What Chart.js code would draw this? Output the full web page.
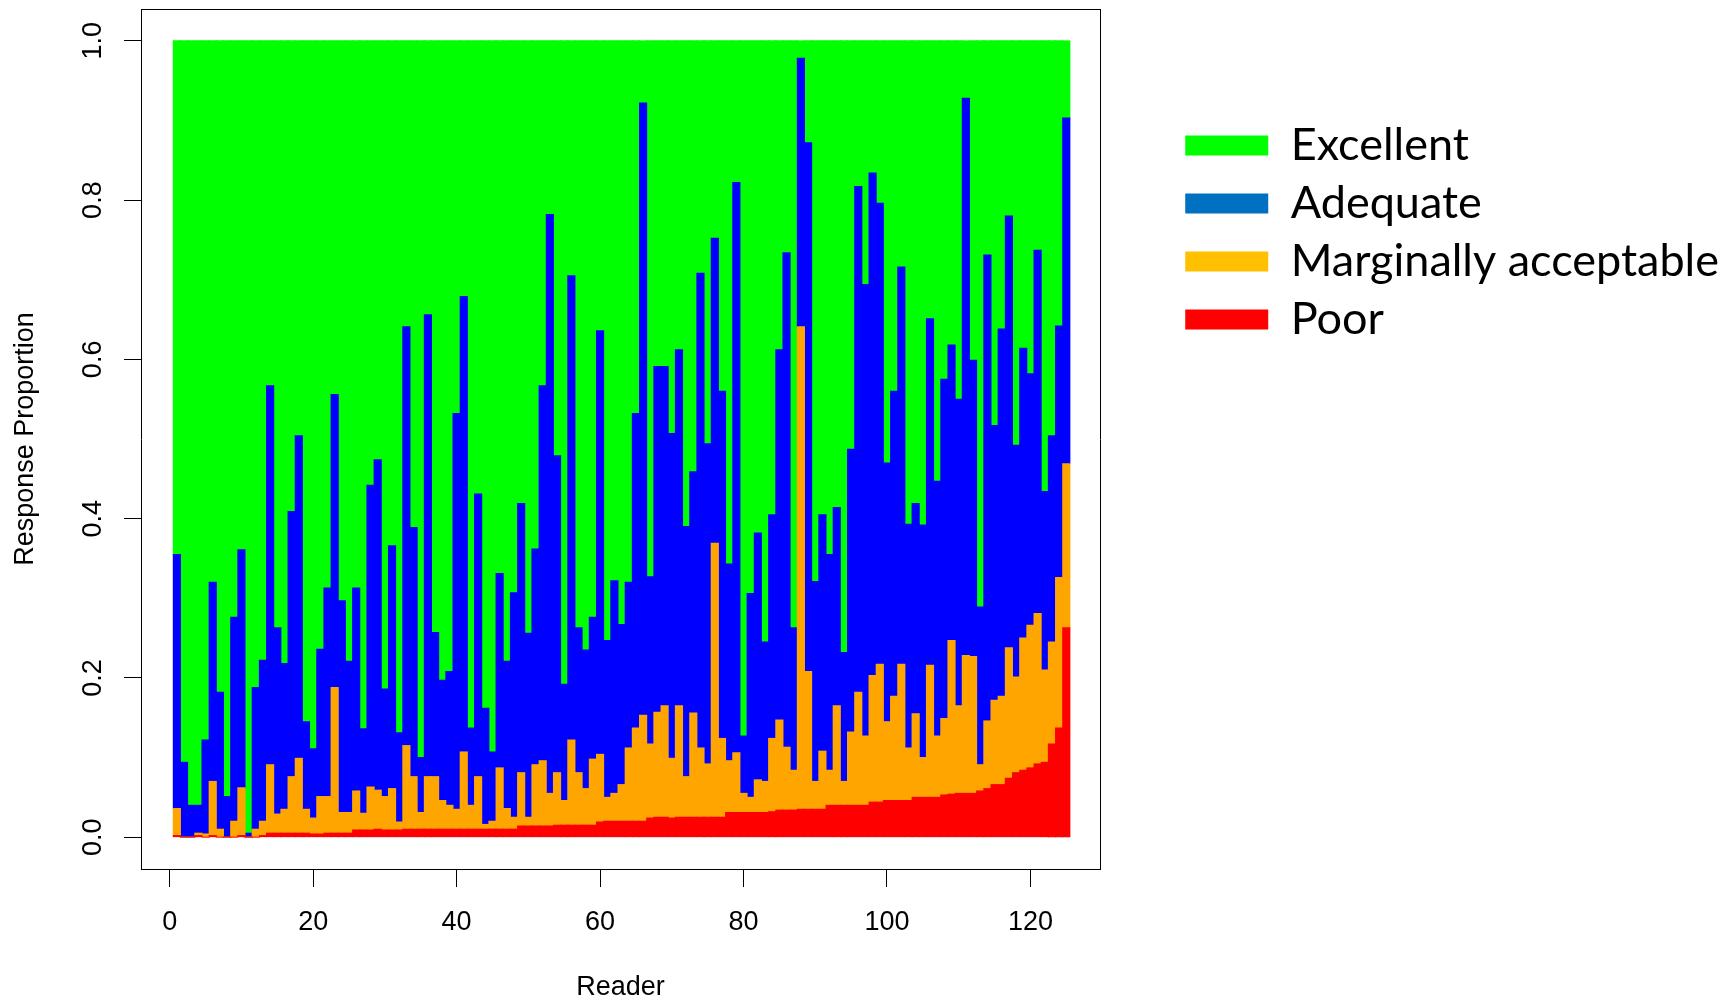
<!DOCTYPE html>
<html>
<head>
<meta charset="utf-8">
<script src="https://cdn.jsdelivr.net/npm/chart.js@4.4.1/dist/chart.umd.min.js"></script>
<style>
html,body{margin:0;padding:0;background:#ffffff;}
#wrap{width:1729px;height:1000px;position:relative;}
</style>
</head>
<body>
<div id="wrap"><canvas id="c" width="1729" height="1000"></canvas></div>
<script>
// ---- data ----
const readers = [1,2,3,4,5,6,7,8,9,10,11,12,13,14,15,16,17,18,19,20,21,22,23,24,25,26,27,28,29,30,31,32,33,34,35,36,37,38,39,40,41,42,43,44,45,46,47,48,49,50,51,52,53,54,55,56,57,58,59,60,61,62,63,64,65,66,67,68,69,70,71,72,73,74,75,76,77,78,79,80,81,82,83,84,85,86,87,88,89,90,91,92,93,94,95,96,97,98,99,100,101,102,103,104,105,106,107,108,109,110,111,112,113,114,115,116,117,118,119,120,121,122,123,124,125];

const poor = [
  0.002,0,0,0.002,0,0.002,0,0,0,0.002,
  0,0,0.002,0.005,0.005,0.005,0.005,0.005,0.005,0.004,
  0.004,0.005,0.005,0.005,0.005,0.009,0.009,0.009,0.010,0.009,
  0.009,0.009,0.010,0.010,0.010,0.010,0.010,0.010,0.010,0.010,
  0.010,0.010,0.010,0.010,0.010,0.010,0.010,0.010,0.014,0.014,
  0.014,0.014,0.014,0.015,0.015,0.015,0.015,0.015,0.015,0.019,
  0.020,0.020,0.020,0.020,0.020,0.020,0.024,0.025,0.025,0.024,
  0.025,0.025,0.025,0.025,0.025,0.025,0.025,0.031,0.031,0.031,
  0.031,0.031,0.031,0.032,0.034,0.034,0.034,0.035,0.035,0.035,
  0.035,0.040,0.040,0.040,0.040,0.040,0.040,0.044,0.044,0.046,
  0.046,0.046,0.046,0.050,0.050,0.050,0.050,0.053,0.054,0.055,
  0.055,0.055,0.058,0.061,0.066,0.066,0.074,0.081,0.084,0.087,
  0.092,0.094,0.117,0.137,0.263
];

const marginal = [
  0.034,0,0,0.003,0.004,0.068,0.010,0,0.020,0.060,
  0,0.010,0.018,0.086,0.024,0.030,0.071,0.094,0.030,0.020,
  0.047,0.046,0.183,0.026,0.026,0.049,0.021,0.054,0.049,0.042,
  0.052,0.010,0.105,0.066,0.021,0.066,0.066,0.036,0.030,0.025,
  0.097,0.030,0.066,0.006,0.010,0.077,0.026,0.015,0.067,0.011,
  0.077,0.082,0.041,0.066,0.031,0.107,0.066,0.046,0.083,0.085,
  0.030,0.035,0.046,0.092,0.117,0.133,0.093,0.132,0.140,0.075,
  0.140,0.051,0.131,0.087,0.067,0.344,0.099,0.065,0.075,0.024,
  0.019,0.041,0.039,0.092,0.113,0.079,0.050,0.606,0.173,0.035,
  0.073,0.044,0.125,0.030,0.092,0.142,0.087,0.159,0.173,0.099,
  0.131,0.171,0.066,0.105,0.050,0.166,0.077,0.096,0.193,0.110,
  0.173,0.172,0.033,0.085,0.106,0.111,0.164,0.120,0.166,0.179,
  0.189,0.116,0.128,0.189,0.206
];

const adequate = [
  0.319,0.094,0.040,0.035,0.118,0.250,0.172,0.051,0.256,0.299,
  0.005,0.178,0.202,0.476,0.234,0.183,0.333,0.405,0.110,0.087,
  0.185,0.262,0.368,0.266,0.190,0.255,0.106,0.379,0.415,0.135,
  0.305,0.112,0.526,0.313,0.069,0.580,0.181,0.151,0.168,0.497,
  0.572,0.097,0.355,0.146,0.087,0.244,0.185,0.282,0.338,0.231,
  0.271,0.471,0.727,0.398,0.146,0.583,0.182,0.174,0.178,0.532,
  0.197,0.267,0.201,0.208,0.395,0.769,0.210,0.434,0.426,0.408,
  0.447,0.314,0.303,0.596,0.402,0.383,0.436,0.247,0.716,0.072,
  0.256,0.310,0.175,0.281,0.465,0.621,0.179,0.337,0.664,0.251,
  0.297,0.271,0.249,0.162,0.355,0.635,0.567,0.631,0.579,0.325,
  0.383,0.499,0.281,0.264,0.292,0.435,0.320,0.426,0.371,0.385,
  0.700,0.372,0.198,0.585,0.345,0.461,0.542,0.291,0.364,0.316,
  0.456,0.224,0.259,0.316,0.434
];

const excellent = [
  0.645,0.906,0.960,0.960,0.878,0.680,0.818,0.949,0.724,0.639,
  0.995,0.812,0.778,0.433,0.737,0.782,0.591,0.496,0.855,0.889,
  0.764,0.687,0.444,0.703,0.779,0.687,0.864,0.558,0.526,0.814,
  0.634,0.869,0.359,0.611,0.900,0.344,0.743,0.803,0.792,0.468,
  0.321,0.863,0.569,0.838,0.893,0.669,0.779,0.693,0.581,0.744,
  0.638,0.433,0.218,0.521,0.808,0.295,0.737,0.765,0.724,0.364,
  0.753,0.678,0.733,0.680,0.468,0.078,0.673,0.409,0.409,0.493,
  0.388,0.610,0.541,0.292,0.506,0.248,0.440,0.657,0.178,0.873,
  0.694,0.618,0.755,0.595,0.388,0.266,0.737,0.022,0.128,0.679,
  0.595,0.645,0.586,0.768,0.513,0.183,0.306,0.166,0.204,0.530,
  0.440,0.284,0.607,0.581,0.608,0.349,0.553,0.425,0.382,0.450,
  0.072,0.401,0.711,0.269,0.483,0.362,0.220,0.508,0.386,0.418,
  0.263,0.566,0.496,0.358,0.097
];

const seriesNames = ['Poor', 'Marginally acceptable', 'Adequate', 'Excellent'];
const barColors = ['#FF0000', '#FFA500', '#0000FF', '#00FF00'];
const legendNames = ['Excellent', 'Adequate', 'Marginally acceptable', 'Poor'];
const legendColors = ['#00FF00', '#0070C0', '#FFC000', '#FF0000'];
const xTickValues = [0, 20, 40, 60, 80, 100, 120];
const xTickLabels = ['0', '20', '40', '60', '80', '100', '120'];
const yTickValues = [0, 0.2, 0.4, 0.6, 0.8, 1.0];
const yTickLabels = ['0.0', '0.2', '0.4', '0.6', '0.8', '1.0'];
const xTitle = 'Reader';
const yTitle = 'Response Proportion';

// ---- layout constants ----
const PLOT_LEFT = 141, PLOT_RIGHT = 1100, PLOT_TOP = 9, PLOT_BOTTOM = 869;
const AXIS_FONT = { family: 'Liberation Sans', size: 27 };
const LEGEND_FONT = { family: 'Lato', size: 45 };

Chart.defaults.font.family = 'Liberation Sans';
Chart.defaults.color = '#000000';

function lookup(values, labels, v) {
  const i = values.findIndex(t => Math.abs(t - v) < 1e-6);
  return i >= 0 ? labels[i] : '';
}
function noPad(s) {
  s.paddingTop = 0; s.paddingBottom = 0; s.paddingLeft = 0; s.paddingRight = 0;
}

const seriesData = [poor, marginal, adequate, excellent];
const datasets = seriesNames.map((name, i) => ({
  label: name,
  data: seriesData[i],
  backgroundColor: barColors[i],
  borderWidth: 0,
  barPercentage: 1.0,
  categoryPercentage: 1.0,
  inflateAmount: 0.5,
  xAxisID: 'x',
  yAxisID: 'y'
}));

new Chart(document.getElementById('c'), {
  type: 'bar',
  data: { labels: readers, datasets: datasets },
  options: {
    responsive: false,
    devicePixelRatio: 1,
    animation: false,
    events: [],
    layout: { padding: 0 },
    scales: {
      x: {
        type: 'linear',
        position: 'bottom',
        stacked: true,
        min: -4,
        max: 129.7,
        offset: false,
        afterFit: (s) => { s.height = 1000 - PLOT_BOTTOM; noPad(s); },
        ticks: {
          stepSize: 20,
          includeBounds: false,
          autoSkip: false,
          maxRotation: 0,
          minRotation: 0,
          padding: 19,
          font: AXIS_FONT,
          color: '#000000',
          callback: (v) => lookup(xTickValues, xTickLabels, v)
        },
        grid: { display: true, drawOnChartArea: false, drawTicks: true, tickLength: 18, tickColor: '#000000', tickWidth: 1, offset: false },
        border: { display: true, color: '#000000', width: 1 },
        title: { display: true, text: xTitle, font: { family: 'Liberation Sans', size: 27, lineHeight: 0.9 }, color: '#000000', padding: { top: 0, bottom: 0 } }
      },
      xTop: {
        type: 'linear',
        position: 'top',
        display: true,
        afterFit: (s) => { s.height = PLOT_TOP; noPad(s); },
        ticks: { display: false },
        grid: { display: false, drawTicks: false },
        border: { display: true, color: '#000000', width: 1 }
      },
      y: {
        type: 'linear',
        position: 'left',
        stacked: true,
        min: -0.04,
        max: 1.04,
        afterFit: (s) => { s.width = PLOT_LEFT; noPad(s); },
        ticks: {
          stepSize: 0.2,
          includeBounds: false,
          autoSkip: false,
          minRotation: 90,
          maxRotation: 90,
          crossAlign: 'center',
          padding: 12,
          font: AXIS_FONT,
          color: '#000000',
          callback: (v) => lookup(yTickValues, yTickLabels, v)
        },
        grid: { display: true, drawOnChartArea: false, drawTicks: true, tickLength: 17, tickColor: '#000000', tickWidth: 1 },
        border: { display: true, color: '#000000', width: 1 },
        title: { display: true, text: yTitle, font: { family: 'Liberation Sans', size: 27, lineHeight: 1.0 }, color: '#000000', padding: { top: 12, bottom: 0 } }
      },
      yRight: {
        type: 'linear',
        position: 'right',
        display: true,
        afterFit: (s) => {
          const lg = s.chart.legend;
          const lw = lg ? lg.width : 0;
          s.width = Math.max(0, s.chart.width - lw - PLOT_RIGHT);
          noPad(s);
        },
        ticks: { display: false },
        grid: { display: false, drawTicks: false },
        border: { display: true, color: '#000000', width: 1 }
      }
    },
    plugins: {
      tooltip: { enabled: false },
      title: { display: false },
      legend: {
        display: true,
        position: 'right',
        align: 'start',
        maxWidth: 800,
        title: { display: true, text: '', font: { size: 10, lineHeight: 1 }, padding: 50 },
        labels: {
          boxWidth: 83,
          boxHeight: 20,
          padding: 13,
          color: '#000000',
          font: LEGEND_FONT,
          generateLabels: () => legendNames.map((name, i) => ({
            text: name,
            fillStyle: legendColors[i],
            strokeStyle: legendColors[i],
            lineWidth: 0,
            hidden: false,
            fontColor: '#000000',
            datasetIndex: seriesNames.indexOf(name)
          }))
        }
      }
    }
  }
});
</script>
</body>
</html>
